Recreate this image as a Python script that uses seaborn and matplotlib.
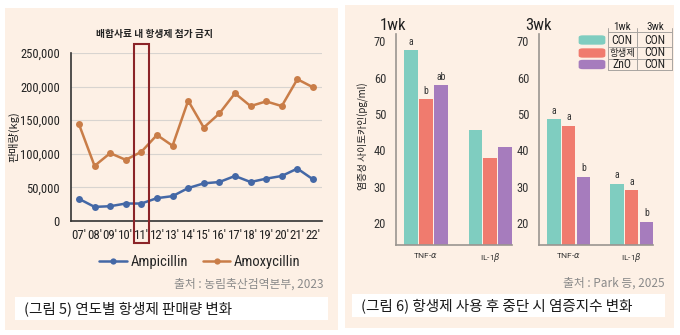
import matplotlib
matplotlib.use("Agg")
import matplotlib.pyplot as plt
import seaborn as sns
import pandas as pd
from matplotlib import font_manager
from matplotlib.font_manager import FontProperties
from matplotlib.patches import Rectangle, FancyBboxPatch
from matplotlib.lines import Line2D
from matplotlib.transforms import blended_transform_factory

# ---------------- data ----------------
years = ["07'", "08'", "09'", "10'", "11'", "12'", "13'", "14'",
         "15'", "16'", "17'", "18'", "19'", "20'", "21'", "22'"]
ampicillin = [33000, 21000, 22000, 26000, 26000, 34000, 37000, 49000,
              56000, 58000, 67000, 58000, 63000, 67000, 78000, 62000]
amoxycillin = [144000, 82000, 101000, 91000, 103000, 128000, 112000, 179000,
               139000, 160000, 190000, 171000, 178000, 171000, 211000, 199000]
drugs = ["Ampicillin", "Amoxycillin"]
ban_year = "11'"

cytokines = ["TNF-$\\alpha$", "IL-1$\\beta$"]
treatments = ["CON", "항생제", "ZnO"]
wk1_tnf = [67.6, 54.1, 58.0]
wk1_il = [45.6, 37.8, 40.9]
wk3_tnf = [48.6, 46.8, 32.8]
wk3_il = [30.9, 29.1, 20.4]
letters_wk1 = [["a", "b", "ab"], ["", "", ""]]
letters_wk3 = [["a", "a", "b"], ["a", "a", "b"]]
table_3wk = ["CON", "CON", "CON"]
yticks_bar = [20, 30, 40, 50, 60, 70]
yticks_line = [0, 50000, 100000, 150000, 200000, 250000]

# ---------------- fonts ----------------
W, H = 680, 335
sns.set_theme(style="white")
plt.rcParams["font.family"] = ["Roboto", "Noto Sans CJK KR", "DejaVu Sans"]
plt.rcParams["mathtext.fontset"] = "dejavusans"
KR = ["Noto Sans CJK KR", "DejaVu Sans"]


def _is_cond(f):
    st = f.stretch
    if isinstance(st, str) and "condensed" in st:
        return True
    if isinstance(st, (int, float)) and st < 100:
        return True
    return ("Narrow" in f.name) or ("Condensed" in f.name)


_cands = [f for f in font_manager.fontManager.ttflist
          if _is_cond(f) and f.style == "normal" and f.fname.lower().endswith((".ttf", ".otf"))]
_pref = ["Roboto", "Liberation", "Open Sans", "Noto Sans", "DejaVu", "Lato", "Inter"]


def _rank(f):
    w = f.weight if isinstance(f.weight, (int, float)) else 400
    p = next((i for i, n in enumerate(_pref) if n in f.name), 99)
    return (abs(w - 400), p)


_cands.sort(key=_rank)
COND_FILE = _cands[0].fname if _cands else None


def cfp(size):
    if COND_FILE:
        return FontProperties(fname=COND_FILE, size=size)
    return FontProperties(family=["Roboto", "DejaVu Sans"], size=size * 0.8)


beige = "#fdf0e5"
blue = "#4468a6"
orange = "#c97d48"
bar_colors = ["#7fcdc0", "#f07b6e", "#a67cbd"]
pal = dict(zip(treatments, bar_colors))


def rect(x0, y0, x1, y1):
    return [x0 / W, 1 - y1 / H, (x1 - x0) / W, (y1 - y0) / H]


def fx(x):
    return x / W


def fy(y):
    return 1 - y / H


fig = plt.figure(figsize=(W / 100, H / 100), dpi=100)
fig.patch.set_facecolor("white")

for (x0, y0, x1, y1) in [(5, 8, 338, 330), (345, 5, 674, 328)]:
    fig.add_artist(Rectangle((fx(x0), fy(y1)), (x1 - x0) / W, (y1 - y0) / H,
                             transform=fig.transFigure, fc=beige, ec="none", zorder=-5))
for (x0, y0, x1, y1) in [(15, 297, 328, 320), (352, 294, 665, 317)]:
    fig.add_artist(Rectangle((fx(x0), fy(y1)), (x1 - x0) / W, (y1 - y0) / H,
                             transform=fig.transFigure, fc="white", ec="none", zorder=-4))

# ---------------- left: line chart ----------------
ax = fig.add_axes(rect(71, 53, 322, 221))
ax.set_facecolor("none")
df = pd.DataFrame({
    "year": years * 2,
    "kg": ampicillin + amoxycillin,
    "drug": [drugs[0]] * len(years) + [drugs[1]] * len(years),
})
sns.lineplot(data=df, x="year", y="kg", hue="drug", sort=False,
             palette={drugs[0]: blue, drugs[1]: orange}, marker="o",
             markersize=5, markeredgewidth=0, linewidth=1.8, ax=ax, legend=False)
ax.set_ylim(0, 250000)
ax.set_xlim(-0.51, len(years) - 1 + 0.58)
ax.set_yticks(yticks_line)
ax.set_yticklabels([f"{v:,}" for v in yticks_line])
ax.yaxis.grid(True, color="#d8d4d0", linewidth=0.8)
ax.set_axisbelow(True)
ax.set_xlabel("")
ax.set_ylabel("")
for s in ["top", "right"]:
    ax.spines[s].set_visible(False)
for s in ["left", "bottom"]:
    ax.spines[s].set_color("#333333")
    ax.spines[s].set_linewidth(1.2)
ax.tick_params(axis="both", length=0, colors="#222222")
ax.tick_params(axis="y", pad=8)
ax.tick_params(axis="x", pad=6)
for lab in ax.get_xticklabels():
    lab.set_fontproperties(cfp(9.3))
for lab in ax.get_yticklabels():
    lab.set_fontproperties(cfp(9))

bi = years.index(ban_year)
tr = blended_transform_factory(ax.transData, ax.transAxes)
ax.add_patch(Rectangle((bi - 0.48, -0.131), 0.96, 1.185, transform=tr,
                       fill=False, ec="#8b2428", lw=1.5, clip_on=False, zorder=5))
ax.text(bi + 0.87, 1.113, "배합사료 내 항생제 첨가 금지", transform=tr,
        ha="center", va="center", fontsize=7, fontweight="bold",
        family=KR, color="#222222")

fig.text(fx(14), fy(137), "판매량(kg)", rotation=90, ha="center", va="center",
         fontsize=8, family=KR, color="#222222")

handles = [Line2D([], [], color=blue, marker="o", markersize=4.5, lw=1.8, markeredgewidth=0),
           Line2D([], [], color=orange, marker="o", markersize=4.5, lw=1.8, markeredgewidth=0)]
fig.legend(handles, drugs, loc="center", bbox_to_anchor=(fx(200), fy(262)), ncol=2,
           frameon=False, prop=cfp(10.5), handlelength=1.9, handletextpad=0.25,
           columnspacing=1.0)

fig.text(fx(323), fy(284), "출처 : 농림축산검역본부, 2023", ha="right", va="center",
         fontsize=8.5, color="#8a8a8a", family=KR)
fig.text(fx(24), fy(308.5), "(그림 5) 연도별 항생제 판매량 변화", ha="left", va="center",
         fontsize=10.5, color="#1a1a1a", family=KR)


# ---------------- right: bar charts ----------------
def bar_panel(x0, x1, tnf, il, letters, title, tx):
    axb = fig.add_axes(rect(x0, 34, x1, 245))
    axb.set_facecolor("none")
    d = pd.DataFrame({
        "cytokine": [cytokines[0]] * 3 + [cytokines[1]] * 3,
        "treatment": treatments * 2,
        "value": tnf + il,
    })
    sns.barplot(data=d, x="cytokine", y="value", hue="treatment", hue_order=treatments,
                palette=pal, width=0.7, gap=0.1, saturation=1, errorbar=None,
                legend=False, ax=axb, linewidth=0)
    axb.set_ylim(14, 72)
    axb.set_xlim(-0.47, 1.34)
    axb.set_yticks(yticks_bar)
    axb.set_xlabel("")
    axb.set_ylabel("")
    for s in ["top", "right"]:
        axb.spines[s].set_visible(False)
    for s in ["left", "bottom"]:
        axb.spines[s].set_color("#9a9590")
        axb.spines[s].set_linewidth(1.2)
    axb.tick_params(axis="y", length=0, pad=7, colors="#333333")
    axb.tick_params(axis="x", length=0, labelsize=6, pad=4, colors="#333333")
    for lab in axb.get_yticklabels():
        lab.set_fontproperties(cfp(9))
    for ti, cont in enumerate(axb.containers):
        for ci, bar in enumerate(cont):
            lab = letters[ci][ti]
            if lab:
                axb.text(bar.get_x() + bar.get_width() / 2, bar.get_height() + 0.9, lab,
                         ha="center", va="bottom", fontproperties=cfp(7), color="#333333")
    fig.text(fx(tx), fy(26), title, ha="center", va="center", fontproperties=cfp(12),
             color="#222222")
    return axb


bar_panel(396, 512, wk1_tnf, wk1_il, letters_wk1, "1wk", 393)
bar_panel(539, 653, wk3_tnf, wk3_il, letters_wk3, "3wk", 539)

fig.text(fx(363), fy(136), "염증성 사이토카인(pg/ml)", rotation=90, ha="center",
         va="center", fontsize=7, family=KR, color="#222222")

# legend table
line_c = "#a8a4a0"
row_y = [40, 53, 64.5]
for i, (t, c, w3) in enumerate(zip(treatments, bar_colors, table_3wk)):
    fig.add_artist(FancyBboxPatch((fx(580), fy(row_y[i] + 4)), 24 / W, 8 / H,
                                  boxstyle="round,pad=0.002,rounding_size=0.006",
                                  transform=fig.transFigure, fc=c, ec="none"))
    if t.isascii():
        fig.text(fx(622), fy(row_y[i]), t, ha="center", va="center",
                 fontproperties=cfp(8.5), color="#222222")
    else:
        fig.text(fx(622), fy(row_y[i]), t, ha="center", va="center", fontsize=6.8,
                 family=KR, color="#222222")
    fig.text(fx(655), fy(row_y[i]), w3, ha="center", va="center",
             fontproperties=cfp(8.5), color="#222222")
fig.text(fx(622), fy(27), "1wk", ha="center", va="center", fontproperties=cfp(8),
         color="#222222")
fig.text(fx(655), fy(27), "3wk", ha="center", va="center", fontproperties=cfp(8),
         color="#222222")
for yy in [32, 47, 59, 70]:
    fig.add_artist(Line2D([fx(608), fx(672)], [fy(yy), fy(yy)], color=line_c, lw=0.7,
                          transform=fig.transFigure))
for xx in [608, 637, 672]:
    fig.add_artist(Line2D([fx(xx), fx(xx)], [fy(28), fy(70)], color=line_c, lw=0.7,
                          transform=fig.transFigure))

fig.text(fx(665), fy(283), "출처 : Park 등, 2025", ha="right", va="center",
         fontsize=8.5, color="#8a8a8a", family=["Noto Sans CJK KR", "DejaVu Sans"])
fig.text(fx(361), fy(305.5), "(그림 6) 항생제 사용 후 중단 시 염증지수 변화", ha="left",
         va="center", fontsize=10.5, color="#1a1a1a", family=KR)

fig.savefig("out.png", dpi=100)
